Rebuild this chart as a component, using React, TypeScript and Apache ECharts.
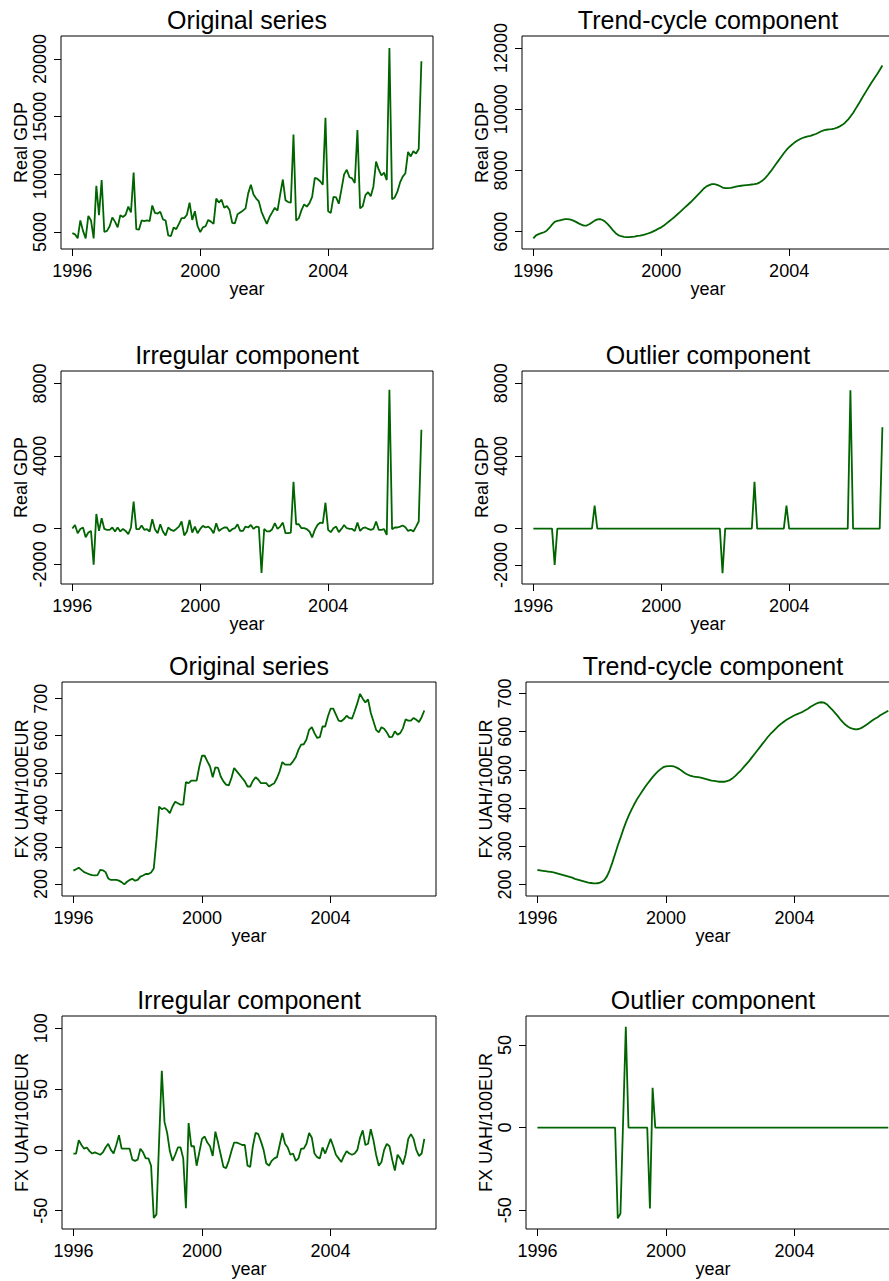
import React, { useEffect, useRef } from "react";
import * as echarts from "echarts";

const START_YEAR = 1996;
const X_MIN = 1995.645;
const X_MAX = 2007.28;
const xTickValues = [1996, 2000, 2004];

// Monthly data, Jan 1996 – Dec 2006
const gdpOriginal = [
  4900, 4800, 4450, 6000, 5100, 4450, 6400, 6000, 4450, 9000, 6450, 9500,
  5000, 5100, 5500, 6250, 5900, 5400, 6450, 6300, 6500, 7200, 6700, 10150,
  5250, 5200, 6000, 5950, 6000, 5950, 7300, 6650, 6600, 6750, 6100, 6000,
  4700, 4650, 5400, 5250, 5700, 6200, 6200, 6500, 7550, 6050, 6800, 5500,
  5000, 5400, 5500, 6050, 5900, 5700, 7900, 7550, 7800, 7100, 7250, 6900,
  5800, 5750, 6550, 6700, 6850, 7050, 8350, 9100, 8250, 7900, 7650, 6750,
  6200, 5700, 6300, 6700, 7100, 6850, 8250, 9550, 7750, 7600, 7550, 13450,
  6000, 6200, 6900, 7400, 7200, 7500, 8050, 9700, 9600, 9400, 9100, 14900,
  6800, 6650, 8050, 8000, 7450, 8700, 10000, 10400, 9750, 9650, 9250, 13850,
  7050, 7250, 8200, 8450, 8100, 8950, 11100, 10400, 9900, 10150, 9500, 20950,
  7850, 8000, 8500, 9300, 9800, 10100, 11950, 11550, 12000, 11800, 12200, 19800,
];

const gdpTrend = [
  5780, 5880, 5920, 5950, 5980, 6030, 6120, 6230, 6320, 6350, 6370, 6390,
  6410, 6410, 6390, 6360, 6320, 6270, 6230, 6200, 6200, 6240, 6300, 6360,
  6400, 6410, 6380, 6320, 6240, 6140, 6030, 5940, 5880, 5850, 5830, 5820,
  5820, 5830, 5840, 5860, 5870, 5890, 5910, 5940, 5970, 6010, 6050, 6100,
  6140, 6200, 6270, 6340, 6410, 6480, 6560, 6640, 6720, 6800, 6880, 6960,
  7050, 7140, 7230, 7320, 7410, 7480, 7520, 7550, 7550, 7530, 7490, 7440,
  7420, 7420, 7430, 7450, 7470, 7490, 7500, 7510, 7520, 7530, 7540, 7550,
  7570, 7610, 7670, 7750, 7850, 7960, 8080, 8200, 8320, 8440, 8560, 8670,
  8760, 8840, 8910, 8970, 9020, 9060, 9090, 9110, 9130, 9160, 9190, 9230,
  9280, 9310, 9330, 9340, 9350, 9370, 9400, 9440, 9490, 9560, 9650, 9760,
  9880, 10020, 10160, 10310, 10460, 10600, 10740, 10880, 11010, 11140, 11280, 11430,
];

const gdpIrregular = [
  -20, 180, -275, -40, 40, -500, -240, -150, -2020, 790, -150, 550,
  -40, -90, -90, 40, -180, 40, -180, -40, -150, -330, 40, 1470,
  -55, -55, 150, -90, -55, -180, 500, -55, -275, 220, -180, -400,
  40, -90, -150, -40, 90, 370, -400, -180, 460, -240, 90, -275,
  -40, 130, 40, 90, -40, -275, 275, -150, -40, 40, 40, -180,
  -55, 0, 220, -150, -150, 90, 40, 180, -40, 90, 55, -2480,
  -40, -180, -180, -55, 275, -40, 90, 310, -275, -275, -240, 2570,
  220, 220, 0, 0, -55, -180, -510, -90, 180, 310, 275, 1410,
  -90, -220, 0, 90, -220, -40, 180, 0, -40, -40, -150, 310,
  -150, 0, 40, -40, -90, -40, 370, -90, -90, -55, -370, 7650,
  -55, 40, 40, 90, 150, 55, -150, -90, -180, 90, 370, 5450,
];

const gdpOutlier = [
  0, 0, 0, 0, 0, 0, 0, 0, -2000, 0, 0, 0,
  0, 0, 0, 0, 0, 0, 0, 0, 0, 0, 0, 1270,
  0, 0, 0, 0, 0, 0, 0, 0, 0, 0, 0, 0,
  0, 0, 0, 0, 0, 0, 0, 0, 0, 0, 0, 0,
  0, 0, 0, 0, 0, 0, 0, 0, 0, 0, 0, 0,
  0, 0, 0, 0, 0, 0, 0, 0, 0, 0, 0, -2450,
  0, 0, 0, 0, 0, 0, 0, 0, 0, 0, 0, 2580,
  0, 0, 0, 0, 0, 0, 0, 0, 0, 0, 0, 1270,
  0, 0, 0, 0, 0, 0, 0, 0, 0, 0, 0, 0,
  0, 0, 0, 0, 0, 0, 0, 0, 0, 0, 0, 7620,
  0, 0, 0, 0, 0, 0, 0, 0, 0, 0, 0, 5580,
];

const fxOriginal = [
  236, 240, 244, 238, 232, 229, 226, 224, 223, 224, 238, 237,
  232, 215, 211, 211, 211, 209, 205, 199, 206, 211, 214, 209,
  211, 220, 223, 227, 227, 231, 242, 319, 409, 402, 405, 400,
  391, 409, 422, 418, 414, 414, 475, 472, 479, 479, 479, 517,
  546, 546, 531, 517, 488, 515, 513, 490, 477, 468, 466, 486,
  513, 504, 495, 486, 477, 463, 463, 478, 488, 482, 472, 472,
  472, 463, 468, 472, 486, 504, 529, 522, 522, 522, 531, 542,
  562, 576, 577, 590, 616, 623, 607, 594, 596, 625, 625, 652,
  673, 673, 657, 641, 639, 645, 654, 648, 646, 666, 688, 713,
  700, 690, 698, 662, 639, 616, 609, 623, 619, 609, 596, 597,
  612, 603, 607, 620, 644, 641, 641, 648, 643, 637, 650, 668,
];

const fxTrend = [
  238, 237, 236, 235, 234, 233, 232, 230, 228, 226, 224, 222,
  220, 218, 215, 213, 211, 209, 207, 205, 204, 203, 203, 204,
  207, 212, 222, 238, 258, 280, 302, 322, 343, 362, 379, 394,
  408, 421, 432, 443, 453, 463, 472, 481, 489, 496, 502, 507,
  509, 510, 510, 509, 506, 502, 497, 492, 488, 485, 483, 482,
  481, 480, 478, 476, 474, 472, 471, 470, 469, 469, 469, 471,
  474, 479, 485, 492, 499, 507, 515, 523, 532, 541, 550, 559,
  568, 577, 586, 594, 601, 608, 615, 621, 626, 631, 635, 639,
  643, 646, 649, 652, 656, 660, 665, 669, 673, 676, 677, 676,
  672, 665, 658, 650, 642, 633, 625, 618, 613, 609, 607, 606,
  607, 610, 614, 619, 624, 629, 634, 638, 643, 647, 651, 655,
];

const fxIrregular = [
  -3, -3, 8, 4, 1, 2, -1, -3, -2, -3, -4, -2,
  2, 5, 0, -3, 4, 12, 1, 1, 1, 1, -8, -9,
  -8, 1, -2, -7, -7, -13, -56, -53, 8, 65, 23, 14,
  -1, -9, -4, 2, 2, -7, -48, 22, 3, 3, -13, -2,
  9, 11, 6, 3, -5, 15, 6, -4, -14, -15, -9, -1,
  6, 6, 5, 4, 4, -13, -14, 3, 14, 13, 7, 0,
  -11, -13, -9, -7, -6, 4, 14, 5, 2, -4, -3, -9,
  -7, 1, 1, 5, 14, 10, -3, -6, -7, 2, -3, 3,
  9, 3, -4, -7, -10, -5, -1, -3, -4, -3, 0, 10,
  16, 4, 5, 17, 8, -4, -13, -10, 0, 5, 3, -8,
  -17, -4, -7, -12, -4, 9, 13, 9, 0, -5, -3, 9,
];

const fxOutlier = [
  0, 0, 0, 0, 0, 0, 0, 0, 0, 0, 0, 0,
  0, 0, 0, 0, 0, 0, 0, 0, 0, 0, 0, 0,
  0, 0, 0, 0, 0, 0, -55, -52, 4, 61, 0, 0,
  0, 0, 0, 0, 0, 0, -49, 24, 0, 0, 0, 0,
  0, 0, 0, 0, 0, 0, 0, 0, 0, 0, 0, 0,
  0, 0, 0, 0, 0, 0, 0, 0, 0, 0, 0, 0,
  0, 0, 0, 0, 0, 0, 0, 0, 0, 0, 0, 0,
  0, 0, 0, 0, 0, 0, 0, 0, 0, 0, 0, 0,
  0, 0, 0, 0, 0, 0, 0, 0, 0, 0, 0, 0,
  0, 0, 0, 0, 0, 0, 0, 0, 0, 0, 0, 0,
  0, 0, 0, 0, 0, 0, 0, 0, 0, 0, 0, 0,
];

const gdpOrigTicks = [5000, 10000, 15000, 20000];
const gdpTrendTicks = [6000, 8000, 10000, 12000];
const gdpCompTicks = [-2000, 0, 4000, 8000];
const fxLevelTicks = [200, 300, 400, 500, 600, 700];
const fxIrrTicks = [-50, 0, 50, 100];
const fxOutTicks = [-50, 0, 50];

const GDP_NAME = "Real GDP";
const FX_NAME = "FX UAH/100EUR";

type Panel = {
  title: string;
  data: number[];
  yName: string;
  yTicks: number[];
  yMin: number;
  yMax: number;
  left: number;
  top: number;
  width: number;
  height: number;
};

const panels: Panel[] = [
  { title: "Original series", data: gdpOriginal, yName: GDP_NAME, yTicks: gdpOrigTicks, yMin: 3527, yMax: 21993, left: 61, top: 36, width: 372, height: 213 },
  { title: "Trend-cycle component", data: gdpTrend, yName: GDP_NAME, yTicks: gdpTrendTicks, yMin: 5433, yMax: 12393, left: 522, top: 36, width: 372, height: 213 },
  { title: "Irregular component", data: gdpIrregular, yName: GDP_NAME, yTicks: gdpCompTicks, yMin: -3085, yMax: 8694, left: 61, top: 371, width: 372, height: 213 },
  { title: "Outlier component", data: gdpOutlier, yName: GDP_NAME, yTicks: gdpCompTicks, yMin: -3050, yMax: 8680, left: 522, top: 371, width: 372, height: 213 },
  { title: "Original series", data: fxOriginal, yName: FX_NAME, yTicks: fxLevelTicks, yMin: 167.6, yMax: 745, left: 62, top: 682, width: 374, height: 214 },
  { title: "Trend-cycle component", data: fxTrend, yName: FX_NAME, yTicks: fxLevelTicks, yMin: 170, yMax: 730, left: 526, top: 682, width: 374, height: 214 },
  { title: "Irregular component", data: fxIrregular, yName: FX_NAME, yTicks: fxIrrTicks, yMin: -65, yMax: 110, left: 62, top: 1016, width: 374, height: 213 },
  { title: "Outlier component", data: fxOutlier, yName: FX_NAME, yTicks: fxOutTicks, yMin: -61.4, yMax: 67.5, left: 526, top: 1016, width: 374, height: 213 },
];

const FONT = '"Liberation Sans", Arial, Helvetica, sans-serif';
const LINE_COLOR = "#006400";

export default function App() {
  const ref = useRef<HTMLDivElement | null>(null);

  useEffect(() => {
    if (!ref.current) return;
    const chart = echarts.init(ref.current, null, { renderer: "svg" });
    const textStyle = { fontFamily: FONT, fontSize: 18, color: "#000" };
    const option: any = {
      animation: false,
      backgroundColor: "#fff",
      grid: panels.map((p) => ({
        left: p.left,
        top: p.top,
        width: p.width,
        height: p.height,
        show: true,
        borderColor: "#000",
        borderWidth: 1,
        backgroundColor: "transparent",
        containLabel: false,
        outerBoundsMode: "none",
      })),
      xAxis: panels.map((p, i) => ({
        type: "value",
        gridIndex: i,
        min: X_MIN,
        max: X_MAX,
        name: "year",
        nameLocation: "middle",
        nameGap: 29,
        nameTextStyle: textStyle,
        axisLine: { show: false, onZero: false },
        axisTick: {
          show: true,
          inside: false,
          length: 7,
          customValues: xTickValues,
          lineStyle: { color: "#000", width: 1 },
        },
        axisLabel: {
          show: true,
          margin: 12.5,
          customValues: xTickValues,
          formatter: (v: number) => String(Math.round(v)),
          ...textStyle,
        },
        splitLine: { show: false },
      })),
      yAxis: panels.map((p, i) => ({
        type: "value",
        gridIndex: i,
        min: p.yMin,
        max: p.yMax,
        name: p.yName,
        nameLocation: "middle",
        nameRotate: 90,
        nameGap: 31,
        nameTextStyle: textStyle,
        axisLine: { show: false, onZero: false },
        axisTick: {
          show: true,
          inside: false,
          length: 7,
          customValues: p.yTicks,
          lineStyle: { color: "#000", width: 1 },
        },
        axisLabel: {
          show: true,
          rotate: 90,
          margin: 12,
          customValues: p.yTicks,
          formatter: (v: number) => String(Math.round(v)),
          ...textStyle,
        },
        splitLine: { show: false },
      })),
      series: panels.map((p, i) => ({
        type: "line",
        name: p.title,
        xAxisIndex: i,
        yAxisIndex: i,
        data: p.data.map((v, k) => [START_YEAR + k / 12, v]),
        showSymbol: false,
        symbol: "none",
        silent: true,
        clip: true,
        lineStyle: { color: LINE_COLOR, width: 1.8 },
        itemStyle: { color: LINE_COLOR },
      })),
      graphic: panels.map((p) => ({
        type: "text",
        x: p.left + p.width / 2,
        y: p.top - 16,
        silent: true,
        style: {
          text: p.title,
          fontFamily: FONT,
          fontSize: 25,
          fill: "#000",
          align: "center",
          verticalAlign: "middle",
        },
      })),
    };
    chart.setOption(option);
    return () => {
      chart.dispose();
    };
  }, []);

  return (
    <div
      style={{
        position: "absolute",
        left: 0,
        top: 0,
        width: 889,
        height: 1281,
        overflow: "hidden",
        background: "#fff",
      }}
    >
      <div ref={ref} style={{ width: 889, height: 1281 }} />
    </div>
  );
}
